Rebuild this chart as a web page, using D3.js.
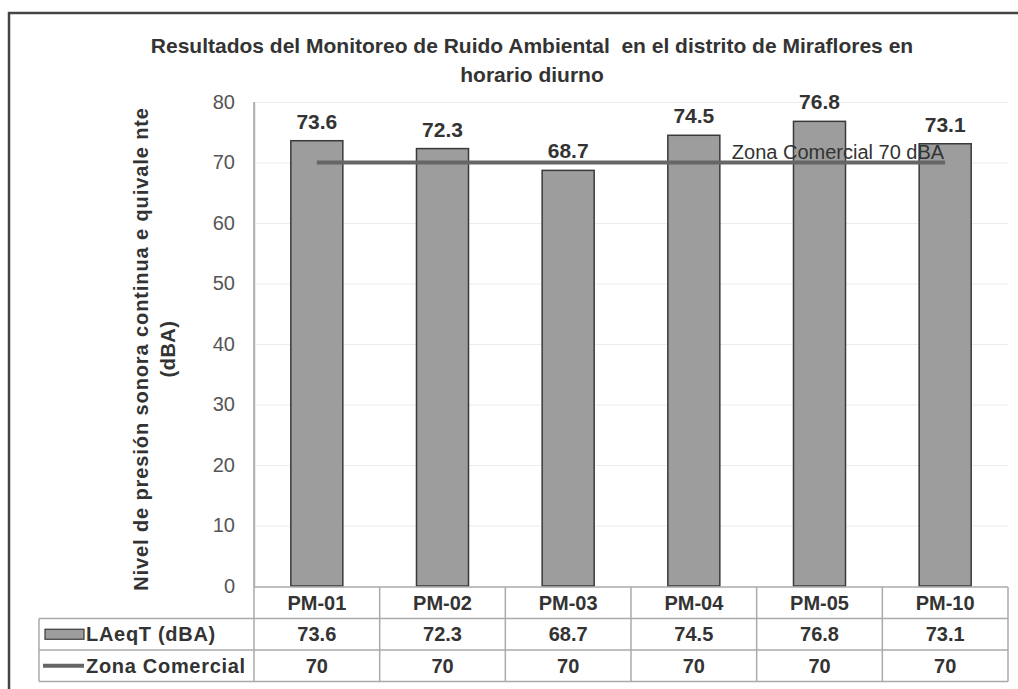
<!DOCTYPE html>
<html>
<head>
<meta charset="utf-8">
<script src="https://cdn.jsdelivr.net/npm/d3@7"></script>
<style>
  body { margin: 0; background: #fff; }
  text { font-family: "Liberation Sans", Arial, sans-serif; }
</style>
</head>
<body>
<div id="chart"></div>
<script>
// data
const categories = ["PM-01", "PM-02", "PM-03", "PM-04", "PM-05", "PM-10"];
const laeqValues = [73.6, 72.3, 68.7, 74.5, 76.8, 73.1];
const zonaValues = [70, 70, 70, 70, 70, 70];
const yTicks = [0, 10, 20, 30, 40, 50, 60, 70, 80];
const seriesNames = ["LAeqT (dBA)", "Zona Comercial"];
const titleLines = ["Resultados del Monitoreo de Ruido Ambiental  en el distrito de Miraflores en", "horario diurno"];
const yTitleLines = ["Nivel de presión sonora continua e quivale nte", "(dBA)"];
const lineLabel = "Zona Comercial 70 dBA";

const svgWidth = 1018;
const svgHeight = 689;

const plot = { left: 254, right: 1008, top: 102, bottom: 586 };
const legendLeft = 39;
const rowH = 31.5;

const svg = d3.select("#chart").append("svg")
  .attr("width", svgWidth).attr("height", svgHeight);

// outer frame
svg.append("rect")
  .attr("x", 9).attr("y", 13)
  .attr("width", svgWidth + 20).attr("height", svgHeight + 20)
  .attr("fill", "#fff").attr("stroke", "#444").attr("stroke-width", 2.5);

const x = d3.scaleBand().domain(categories).range([plot.left, plot.right]).padding(0);
const y = d3.scaleLinear().domain([0, 80]).range([plot.bottom, plot.top]);
const barW = x.bandwidth() * 0.414;

// faint gridlines
svg.append("g")
  .attr("transform", `translate(${plot.left},0)`)
  .call(d3.axisLeft(y).tickValues(yTicks.slice(1)).tickSize(-(plot.right - plot.left)).tickFormat(""))
  .call(g => g.select(".domain").remove())
  .call(g => g.selectAll("line").attr("stroke", "#ececec").attr("stroke-width", 1));

// y axis
svg.append("g")
  .attr("transform", `translate(${plot.left},0)`)
  .call(d3.axisLeft(y).tickValues(yTicks).tickSize(0).tickPadding(19))
  .call(g => g.select(".domain").attr("stroke", "#bbb").attr("stroke-width", 1.5))
  .call(g => g.selectAll("text")
    .attr("font-size", "20px").attr("fill", "#555")
    .attr("font-family", "'Liberation Sans', Arial, sans-serif"));

// bars
svg.append("g").selectAll("rect")
  .data(laeqValues)
  .enter().append("rect")
  .attr("x", (d, i) => x(categories[i]) + (x.bandwidth() - barW) / 2)
  .attr("y", d => y(d))
  .attr("width", barW)
  .attr("height", d => y(0) - y(d))
  .attr("fill", "#9d9d9d")
  .attr("stroke", "#3a3a3a")
  .attr("stroke-width", 1.5);

// value labels
svg.append("g").selectAll("text")
  .data(laeqValues)
  .enter().append("text")
  .attr("x", (d, i) => x(categories[i]) + x.bandwidth() / 2)
  .attr("y", d => y(d) - 12)
  .attr("text-anchor", "middle")
  .attr("font-size", "21px").attr("font-weight", "bold").attr("fill", "#333")
  .text(d => d.toFixed(1));

// Zona Comercial line
const line = d3.line()
  .x((d, i) => x(categories[i]) + x.bandwidth() / 2)
  .y(d => y(d));
svg.append("path")
  .datum(zonaValues)
  .attr("d", line)
  .attr("fill", "none")
  .attr("stroke", "#666")
  .attr("stroke-width", 4);

svg.append("text")
  .attr("x", x(categories[5]) + x.bandwidth() / 2 - 1)
  .attr("y", y(70) - 4)
  .attr("text-anchor", "end")
  .attr("font-size", "20px").attr("fill", "#333")
  .text(lineLabel);

// title
svg.append("g").selectAll("text")
  .data(titleLines)
  .enter().append("text")
  .attr("x", 532)
  .attr("y", (d, i) => 53 + i * 29)
  .attr("text-anchor", "middle")
  .attr("font-size", "21px").attr("font-weight", "bold").attr("fill", "#333")
  .style("white-space", "pre")
  .text(d => d);

// y axis title
svg.append("g")
  .attr("transform", `translate(148, ${(plot.top + plot.bottom) / 2 + 5}) rotate(-90)`)
  .selectAll("text")
  .data(yTitleLines)
  .enter().append("text")
  .attr("x", 0)
  .attr("y", (d, i) => i * 27)
  .attr("text-anchor", "middle")
  .attr("font-size", "20px").attr("font-weight", "bold").attr("fill", "#333")
  .attr("letter-spacing", (d, i) => i === 0 ? "0.9px" : "0.5px")
  .text(d => d);

// data table
const tableTop = y(0) + 1;
const grid = svg.append("g")
  .attr("stroke", "#aaa").attr("stroke-width", 1.5).attr("fill", "none");

// horizontal rules
[0, 1, 2, 3].forEach(r => {
  grid.append("line")
    .attr("x1", r === 0 ? plot.left : legendLeft).attr("x2", plot.right)
    .attr("y1", tableTop + r * rowH).attr("y2", tableTop + r * rowH);
});
// vertical rules
categories.forEach((c, i) => {
  grid.append("line")
    .attr("x1", x(c)).attr("x2", x(c))
    .attr("y1", i === 0 ? plot.top : tableTop).attr("y2", tableTop + 3 * rowH);
});
grid.append("line")
  .attr("x1", plot.right).attr("x2", plot.right)
  .attr("y1", tableTop).attr("y2", tableTop + 3 * rowH);
grid.append("line")
  .attr("x1", legendLeft).attr("x2", legendLeft)
  .attr("y1", tableTop + rowH).attr("y2", tableTop + 3 * rowH);

const tableRows = [categories, laeqValues.map(d => d.toFixed(1)), zonaValues.map(String)];
tableRows.forEach((row, r) => {
  svg.append("g").selectAll("text")
    .data(row)
    .enter().append("text")
    .attr("x", (d, i) => x(categories[i]) + x.bandwidth() / 2)
    .attr("y", tableTop + r * rowH + rowH / 2 + 7)
    .attr("text-anchor", "middle")
    .attr("font-size", "20px").attr("font-weight", "bold").attr("fill", "#333")
    .text(d => d);
});

// legend cells
const legY1 = tableTop + rowH * 1.5;
const legY2 = tableTop + rowH * 2.5;
svg.append("rect")
  .attr("x", 45).attr("y", legY1 - 5).attr("width", 39).attr("height", 10)
  .attr("fill", "#9d9d9d").attr("stroke", "#3a3a3a").attr("stroke-width", 1.2);
svg.append("line")
  .attr("x1", 43).attr("x2", 84).attr("y1", legY2).attr("y2", legY2)
  .attr("stroke", "#666").attr("stroke-width", 4);
svg.append("g").selectAll("text")
  .data(seriesNames)
  .enter().append("text")
  .attr("x", 86)
  .attr("y", (d, i) => (i === 0 ? legY1 : legY2) + 7)
  .attr("font-size", "20px").attr("font-weight", "bold").attr("fill", "#333")
  .attr("letter-spacing", "0.7px")
  .text(d => d);
</script>
</body>
</html>
